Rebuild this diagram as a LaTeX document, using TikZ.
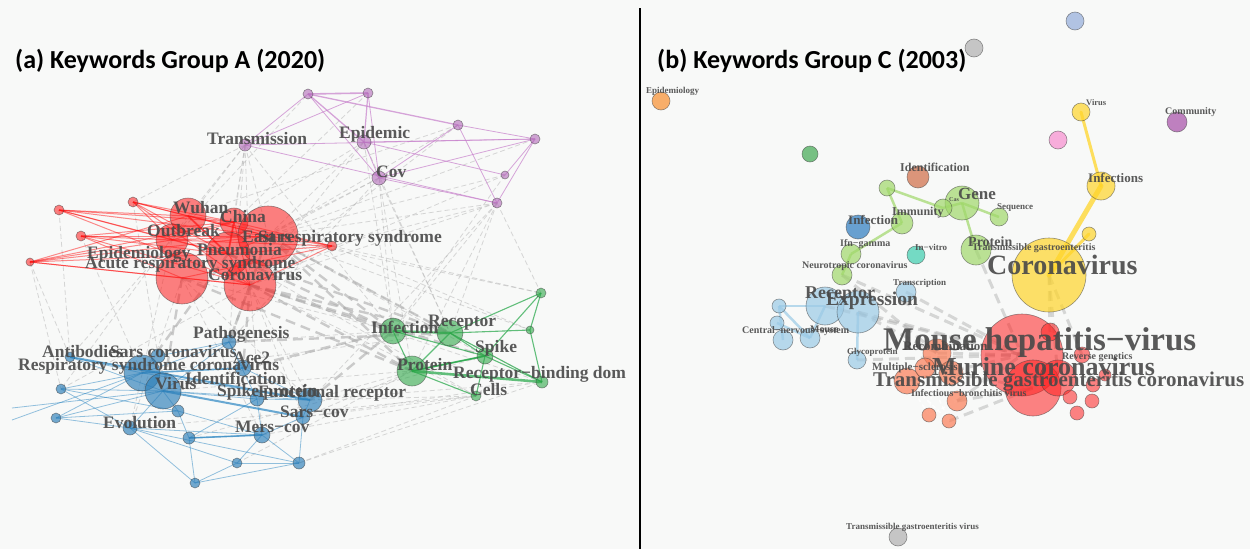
\documentclass[tikz,border=0pt]{standalone}
\usepackage{fontspec}
\setmainfont{Liberation Serif}
\newfontfamily\kwtitle{Carlito}
\pgfdeclarelayer{bgl}
\pgfdeclarelayer{edges}
\pgfsetlayers{bgl,edges,main}
\definecolor{bgc}{RGB}{248,249,248}
\definecolor{labgray}{RGB}{72,72,72}
\definecolor{apu}{HTML}{B36BBA}
\definecolor{ard}{HTML}{FF1A1A}
\definecolor{agn}{HTML}{30A84A}
\definecolor{abl}{HTML}{2A7DB8}
\definecolor{epu}{HTML}{C77FCB}
\definecolor{egn}{HTML}{21A545}
\definecolor{ebl}{HTML}{2B86C2}
\definecolor{corange}{HTML}{F88F2E}
\definecolor{cgreen}{HTML}{41A852}
\definecolor{cbrown}{HTML}{CF6B45}
\definecolor{clgreen}{HTML}{A0D86A}
\definecolor{cblue}{HTML}{2B7BC0}
\definecolor{cteal}{HTML}{3CCDAE}
\definecolor{cyellow}{HTML}{FFD52A}
\definecolor{cpink}{HTML}{F78ED0}
\definecolor{cpurple}{HTML}{A64EA8}
\definecolor{cbgray}{HTML}{93ADDB}
\definecolor{cgray}{HTML}{B0B0B0}
\definecolor{clblue}{HTML}{9BCAE6}
\definecolor{csalmon}{HTML}{FB7D57}
\definecolor{cred}{HTML}{FF2020}
\newcommand\kwfs[1]{\fontsize{#1}{#1}\selectfont\bfseries}
\newcommand\kwnode[5]{\node[#5, minimum size=#4*2pt] (#1) at (#2,#3) {};}
\newcommand\kwlab[5]{\node[lab, font=\kwfs{#4}] (#1) at (#2,#3) {#5};}
\tikzset{
  nd/.style={circle, inner sep=0pt, draw=black!75, draw opacity=0.55, line width=0.6pt},
  pu/.style={nd, fill=apu, fill opacity=0.6},
  rd/.style={nd, fill=ard, fill opacity=0.55},
  gn/.style={nd, fill=agn, fill opacity=0.6},
  bl/.style={nd, fill=abl, fill opacity=0.65},
  bnode/.style={nd, fill=#1, fill opacity=0.7},
  bred/.style={nd, fill=cred, fill opacity=0.55},
  lab/.style={anchor=west, inner sep=0pt, text=labgray, text opacity=0.9},
  titlelab/.style={anchor=west, inner sep=0pt, font=\kwtitle\fontsize{26}{26}\selectfont\bfseries},
  epur/.style={draw=epu, draw opacity=0.7, line width=0.8pt},
  ered/.style={draw=red, draw opacity=0.45, line width=1pt},
  egrn/.style={draw=egn, draw opacity=0.7, line width=1.1pt},
  eblu/.style={draw=ebl, draw opacity=0.5, line width=0.8pt},
  gthin/.style={draw=gray!60, draw opacity=0.5, line width=0.8pt, dash pattern=on 5pt off 3pt},
  gthick/.style={draw=gray!65, draw opacity=0.6, line width=2.4pt, dash pattern=on 10pt off 6pt},
  eyel/.style={draw=cyellow, draw opacity=0.75, line cap=round},
  elg/.style={draw=clgreen, draw opacity=0.7, line width=2.5pt},
  elb/.style={draw=clblue, draw opacity=0.7, line width=2.5pt},
}
\begin{document}
\begin{tikzpicture}[x=1pt, y=-1pt]
\useasboundingbox (0,0) rectangle (1250,549);
\begin{pgfonlayer}{bgl}
\fill[bgc] (0,0) rectangle (1250,549);
\end{pgfonlayer}
\draw[line width=2pt, black] (640,8) -- (640,549);
\node[titlelab] (titleA) at (15,61) {(a) Keywords Group A (2020)};
\node[titlelab] (titleB) at (657,61) {(b) Keywords Group C (2003)};

% ---------- Panel A nodes ----------
\kwnode{pA}{308}{94}{5}{pu}
\kwnode{pB}{368}{93}{5}{pu}
\kwnode{pTrans}{245}{145}{6}{pu}
\kwnode{pEpi}{364}{142}{7}{pu}
\kwnode{pCov}{379}{178}{7}{pu}
\kwnode{pC}{458}{125}{5}{pu}
\kwnode{pD}{535}{139}{5}{pu}
\kwnode{pE}{505}{175}{4}{pu}
\kwnode{pF}{497}{203}{5}{pu}

\kwnode{rA}{133}{202}{5}{rd}
\kwnode{rB}{59}{210}{5}{rd}
\kwnode{rC}{81}{236}{5}{rd}
\kwnode{rD}{30}{262}{4}{rd}
\kwnode{rE}{332}{246}{5}{rd}
\kwnode{rWuhan}{188}{216}{18}{rd}
\kwnode{rChina}{234}{222}{14}{rd}
\kwnode{rSars}{268}{236}{30}{rd}
\kwnode{rOut}{172}{240}{16}{rd}
\kwnode{rPneu}{228}{254}{22}{rd}
\kwnode{rEpi}{182}{278}{26}{rd}
\kwnode{rCoro}{250}{285}{26}{rd}

\kwnode{gA}{541}{293}{5}{gn}
\kwnode{gInf}{393}{331}{13}{gn}
\kwnode{gRec}{450}{333}{13}{gn}
\kwnode{gB}{530}{330}{4}{gn}
\kwnode{gSpike}{485}{356}{8}{gn}
\kwnode{gProt}{412}{371}{15}{gn}
\kwnode{gRBD}{542}{382}{6}{gn}
\kwnode{gCells}{476}{396}{5}{gn}

\kwnode{bPath}{229}{342}{7}{bl}
\kwnode{bAnti}{70}{357}{5}{bl}
\kwnode{bSars}{158}{356}{7}{bl}
\kwnode{bResp}{142}{373}{18}{bl}
\kwnode{bAce}{243}{368}{8}{bl}
\kwnode{bVirus}{163}{391}{18}{bl}
\kwnode{bSpike}{257}{399}{7}{bl}
\kwnode{bFunc}{310}{400}{12}{bl}
\kwnode{bSarsCov}{303}{417}{7}{bl}
\kwnode{bEvo}{130}{428}{7}{bl}
\kwnode{bMers}{262}{435}{8}{bl}
\kwnode{bA}{61}{389}{5}{bl}
\kwnode{bB}{56}{418}{5}{bl}
\kwnode{bC}{178}{411}{6}{bl}
\kwnode{bD}{189}{438}{6}{bl}
\kwnode{bE}{237}{463}{5}{bl}
\kwnode{bF}{299}{463}{6}{bl}
\kwnode{bG}{195}{483}{5}{bl}
\coordinate (bL1) at (12,408);
\coordinate (bL2) at (12,420);

% ---------- Panel B nodes ----------
\kwnode{cEpi}{661}{101}{9}{bnode=corange}
\kwnode{cG1}{810}{154}{8}{bnode=cgreen}
\kwnode{cIdent}{918}{177}{11}{bnode=cbrown}
\kwnode{cLG1}{887}{188}{8}{bnode=clgreen}
\kwnode{cGene}{962}{203}{17}{bnode=clgreen}
\kwnode{cCas}{943}{208}{9}{bnode=clgreen}
\kwnode{cSeq}{999}{217}{9}{bnode=clgreen}
\kwnode{cImm}{902}{223}{11}{bnode=clgreen}
\kwnode{cInf}{858}{227}{12}{bnode=cblue}
\kwnode{cIfn}{851}{254}{10}{bnode=clgreen}
\kwnode{cVitro}{916}{255}{9}{bnode=cteal}
\kwnode{cProt}{976}{250}{15}{bnode=clgreen}
\kwnode{cNeuro}{842}{275}{10}{bnode=clgreen}
\kwnode{cTrans}{906}{292}{10}{bnode=clblue}
\kwnode{cCoro}{1049}{275}{37}{bnode=cyellow}
\kwnode{cY1}{1089}{234}{7}{bnode=cyellow}
\kwnode{cInfs}{1101}{186}{14}{bnode=cyellow}
\kwnode{cVirus}{1081}{112}{9}{bnode=cyellow}
\kwnode{cPink}{1058}{140}{9}{bnode=cpink}
\kwnode{cComm}{1177}{122}{10}{bnode=cpurple}
\kwnode{cBG}{1075}{21}{9}{bnode=cbgray}
\kwnode{cGray}{974}{48}{9}{bnode=cgray}
\kwnode{cRec}{825}{306}{19}{bnode=clblue}
\kwnode{cExpr}{858}{312}{21}{bnode=clblue}
\kwnode{cLB1}{779}{306}{7}{bnode=clblue}
\kwnode{cLB2}{777}{323}{7}{bnode=clblue}
\kwnode{cLB3}{783}{340}{10}{bnode=clblue}
\kwnode{cLB4}{810}{338}{10}{bnode=clblue}
\kwnode{cGly}{857}{360}{9}{bnode=clblue}
\kwnode{cS1}{937}{353}{14}{bnode=csalmon}
\kwnode{cS2}{907}{381}{13}{bnode=csalmon}
\kwnode{cS3}{951}{373}{12}{bnode=csalmon}
\kwnode{cS7}{925}{368}{10}{bnode=csalmon}
\kwnode{cS4}{957}{401}{10}{bnode=csalmon}
\kwnode{cS5}{929}{415}{7}{bnode=csalmon}
\kwnode{cS6}{949}{421}{7}{bnode=csalmon}
\kwnode{cR1}{1022}{355}{41}{bred}
\kwnode{cR2}{1033}{388}{28}{bred}
\kwnode{cR3}{1058}{378}{18}{bred}
\kwnode{cR4}{1050}{332}{9}{bred}
\kwnode{cR10}{1082}{355}{8}{bred}
\kwnode{cR5}{1070}{397}{7}{bred}
\kwnode{cR6}{1092}{401}{7}{bred}
\kwnode{cR7}{1077}{413}{7}{bred}
\kwnode{cR8}{1093}{385}{7}{bred}
\kwnode{cR9}{1105}{375}{6}{bred}
\kwnode{cTGEV}{898}{537}{9}{bnode=cgray}

% ---------- edges ----------
\begin{pgfonlayer}{edges}
\foreach \a/\b in {pTrans/rWuhan, pTrans/rChina, pTrans/rSars, pTrans/rPneu, pTrans/rCoro, pTrans/gInf, pTrans/bPath, pTrans/rOut, pTrans/rA,
  pEpi/rSars, pEpi/rChina, pEpi/gInf, pEpi/gRec, pEpi/rCoro,
  pCov/rSars, pCov/gRec, pCov/gProt, pCov/bPath, pCov/rPneu, pCov/gInf,
  pF/rSars, pF/gInf, pF/rCoro, pF/gProt, pF/bFunc, pF/rE, pF/gA, pF/gRec,
  pE/rSars, pE/gInf, pE/rCoro, pC/rSars, pC/rCoro, pD/rSars, pB/rChina,
  rCoro/gCells, rCoro/gRBD, rSars/gRBD, rSars/gSpike, rPneu/gCells, rEpi/gInf, rEpi/bFunc,
  rD/bAnti, rD/bA, rC/bResp, rB/bAnti, rA/bSars, rOut/bAnti,
  rCoro/bFunc, rCoro/bMers, rCoro/bSarsCov, rEpi/bMers, rEpi/bEvo, rOut/bEvo, rWuhan/bA,
  bFunc/gProt, bFunc/gRBD, bFunc/gCells, bSarsCov/gCells, bSarsCov/gRBD, bMers/gCells, bF/gCells, bF/gRBD,
  bMers/gProt, bEvo/gCells, bVirus/gProt, bVirus/gInf, bPath/gInf, bResp/gRec, bA/rCoro, bE/gProt, bD/gSpike,
  rE/gA, rE/gB, rSars/gA, rChina/gB, rWuhan/pC, rOut/pA}
  \draw[gthin] (\a.center) -- (\b.center);
\foreach \a/\b in {rSars/gInf, rSars/gRec, rCoro/gInf, rCoro/gProt, rPneu/gInf, rSars/gProt, rCoro/gRec,
  rPneu/gRec, rEpi/gProt, bFunc/gInf, bPath/gRec, rSars/bPath, rCoro/bPath, rCoro/bAce, rEpi/bVirus, rPneu/bResp, rCoro/gSpike, bAce/gInf}
  \draw[gthick] (\a.center) -- (\b.center);
% purple
\foreach \a/\b in {pA/pTrans, pB/pTrans, pB/pCov, pTrans/pD, pTrans/pF, pEpi/pE, pEpi/pCov,
  pCov/pC, pCov/pD, pCov/pF, pC/pF, pC/pD, pD/pF, pD/pE, pA/pCov, pEpi/pD}
  \draw[epur] (\a.center) -- (\b.center);
\draw[epur, line width=1.6pt] (pA.center) -- (pB.center);
\draw[epur, line width=1.3pt] (pA.center) -- (pC.center);
\draw[epur, line width=1.3pt] (pA.center) -- (pEpi.center);
\draw[epur, line width=1.2pt] (pB.center) -- (pEpi.center);
% red
\foreach \a/\b in {rA/rWuhan, rA/rChina, rA/rSars, rA/rPneu, rA/rOut, rA/rCoro,
  rB/rWuhan, rB/rChina, rB/rSars, rB/rPneu, rB/rOut, rB/rCoro,
  rC/rOut, rC/rPneu, rC/rSars, rC/rCoro, rC/rEpi, rC/rChina,
  rD/rOut, rD/rPneu, rD/rEpi, rD/rCoro, rD/rSars, rD/rChina, rD/rWuhan,
  rE/rSars, rE/rPneu, rE/rOut, rE/rCoro, rE/rEpi, rE/rWuhan, rE/rChina,
  rWuhan/rChina, rWuhan/rPneu, rChina/rPneu, rOut/rPneu, rPneu/rSars, rPneu/rCoro,
  rEpi/rCoro, rOut/rSars, rWuhan/rSars, rChina/rCoro, rOut/rChina}
  \draw[ered] (\a.center) -- (\b.center);
\draw[ered, line width=2pt] (rWuhan.center) -- (rPneu.center);
\draw[ered, line width=2pt] (rChina.center) -- (rPneu.center);
% green
\foreach \a/\b in {gInf/gProt, gRec/gA, gRec/gB, gProt/gSpike, gSpike/gRBD, gSpike/gRec, gInf/gSpike,
  gCells/gProt, gCells/gSpike, gA/gB, gB/gRBD, gA/gSpike, gRec/gRBD, gRec/gProt}
  \draw[egrn] (\a.center) -- (\b.center);
\draw[egrn, line width=2.2pt] (gInf.center) -- (gRec.center);
\draw[egrn, line width=2.6pt] (gProt.center) -- (gRBD.center);
\draw[egrn, line width=1.8pt] (gProt.center) -- (gSpike.center);
% blue
\foreach \a/\b in {bAnti/bVirus, bAnti/bResp, bResp/bFunc, bVirus/bFunc, bVirus/bSpike, bVirus/bPath,
  bResp/bPath, bSars/bPath, bA/bResp, bA/bVirus, bA/bC, bB/bResp, bB/bC, bB/bVirus, bEvo/bVirus,
  bEvo/bE, bEvo/bF, bEvo/bG, bC/bD, bC/bVirus, bD/bMers, bD/bG, bE/bF, bE/bMers, bE/bG, bF/bMers,
  bF/bSarsCov, bG/bF, bMers/bSarsCov, bMers/bSpike, bSpike/bFunc, bSarsCov/bFunc, bPath/bSpike,
  bPath/bAce, bAce/bFunc, bL1/bVirus, bL2/bResp, bEvo/bMers, bC/bMers, bA/bEvo, bB/bEvo, bD/bSpike}
  \draw[eblu] (\a.center) -- (\b.center);
\draw[eblu, line width=2pt, draw opacity=0.7] (bAnti.center) -- (bFunc.center);
\draw[eblu, line width=2pt, draw opacity=0.7] (bVirus.center) -- (bSarsCov.center);
\draw[eblu, line width=1.6pt, draw opacity=0.7] (bResp.center) -- (bAce.center);
\draw[eblu, line width=1.6pt, draw opacity=0.7] (bD.center) -- (bMers.center);
% panel B
\foreach \a/\b in {cNeuro/cR1, cTrans/cR1, cExpr/cR1, cRec/cR1, cExpr/cS1, cProt/cR1, cGly/cR1,
  cS1/cR1, cS2/cR1, cS4/cR1, cS3/cR2, cS4/cR2, cS6/cR2, cNeuro/cS1, cCoro/cR3, cCoro/cR4, cCoro/cR10}
  \draw[gthick, draw opacity=0.45, line width=3pt] (\a.center) -- (\b.center);
\foreach \a/\b in {cS2/cS5, cS2/cS6, cS1/cS5, cS7/cS6, cS2/cS4, cS5/cS4}
  \draw[white, line width=1.5pt, dash pattern=on 4pt off 3pt, draw opacity=0.8] (\a.center) -- (\b.center);
\draw[eyel, line width=3pt] (cVirus.center) -- (cInfs.center);
\draw[eyel, line width=5pt] (cInfs.center) -- (cCoro.center);
\draw[eyel, line width=3pt] (cY1.center) -- (cCoro.center);
\foreach \a/\b in {cLG1/cCas, cLG1/cImm, cImm/cIfn, cCas/cGene, cGene/cSeq, cGene/cProt, cIfn/cNeuro}
  \draw[elg] (\a.center) -- (\b.center);
\foreach \a/\b in {cLB1/cLB4, cLB2/cLB4, cLB1/cLB3, cRec/cLB4, cExpr/cGly, cRec/cLB1}
  \draw[elb] (\a.center) -- (\b.center);
\end{pgfonlayer}

% ---------- Panel A labels ----------
\kwlab{lTrans}{207}{139}{17.5}{Transmission}
\kwlab{lEpi}{339}{134}{17.5}{Epidemic}
\kwlab{lCov}{376}{172}{17.5}{Cov}
\kwlab{lWuhan}{173}{208}{17.5}{Wuhan}
\kwlab{lChina}{220}{217}{17.5}{China}
\kwlab{lOut}{147}{231}{17.5}{Outbreak}
\kwlab{lEast}{242}{238}{17.5}{East respiratory syndrome}
\kwlab{lSars}{258}{237}{17.5}{Sars}
\kwlab{lPneu}{197}{250}{17.5}{Pneumonia}
\kwlab{lEpid}{87}{254}{17.5}{Epidemiology}
\kwlab{lAcute}{85}{264}{17.5}{Acute respiratory syndrome}
\kwlab{lCoro}{208}{275}{17.5}{Coronavirus}
\kwlab{lInf}{371}{327}{17.5}{Infection}
\kwlab{lRec}{428}{323}{17.5}{Receptor}
\kwlab{lSpike}{475}{348}{17.5}{Spike}
\kwlab{lProt}{397}{365}{17.5}{Protein}
\kwlab{lRBD}{453}{374}{17.5}{Receptor−binding dom}
\kwlab{lCells}{470}{390}{17.5}{Cells}
\kwlab{lPath}{193}{334}{17.5}{Pathogenesis}
\kwlab{lAnti}{42}{352}{17.5}{Antibodies}
\kwlab{lSarsC}{110}{352}{17.5}{Sars coronavirus}
\kwlab{lAce}{233}{358}{17.5}{Ace2}
\kwlab{lResp}{18}{366}{17.5}{Respiratory syndrome coronavirus}
\kwlab{lIdent}{185}{378}{17.5}{Identification}
\kwlab{lVirus}{155}{384}{17.5}{Virus}
\kwlab{lSpikeP}{217}{392}{17.5}{Spike protein}
\kwlab{lFunc}{258}{393}{17.5}{Functional receptor}
\kwlab{lSarsCov}{280}{412}{17.5}{Sars−cov}
\kwlab{lEvo}{103}{423}{17.5}{Evolution}
\kwlab{lMers}{235}{427}{17.5}{Mers−cov}

% ---------- Panel B labels ----------
\kwlab{mEpi}{646}{91}{9}{Epidemiology}
\kwlab{mIdent}{900}{167}{12}{Identification}
\kwlab{mGene}{958}{194}{17}{Gene}
\kwlab{mCas}{949}{200}{6}{Cas}
\kwlab{mSeq}{997}{207}{9}{Sequence}
\kwlab{mImm}{892}{213}{12}{Immunity}
\kwlab{mInf}{848}{220}{13}{Infection}
\kwlab{mIfn}{840}{244}{10}{Ifn−gamma}
\kwlab{mVitro}{915}{247}{9}{In−vitro}
\kwlab{mProt}{968}{242}{14}{Protein}
\kwlab{mTGE}{972}{248}{10}{Transmissible gastroenteritis}
\kwlab{mNeuro}{802}{266}{10}{Neurotropic coronavirus}
\kwlab{mTrans}{893}{283}{9}{Transcription}
\kwlab{mCoro}{987}{265}{28}{Coronavirus}
\kwlab{mInfs}{1088}{178}{13}{Infections}
\kwlab{mVirus}{1086}{103}{8.5}{Virus}
\kwlab{mComm}{1165}{112}{10}{Community}
\kwlab{mRec}{805}{295}{18}{Receptor}
\kwlab{mExpr}{826}{301}{19.5}{Expression}
\kwlab{mCNS}{742}{331}{10}{Central−nervous−system}
\kwlab{mMouse}{810}{329}{10}{Mouse}
\kwlab{mGly}{847}{352}{9}{Glycoprotein}
\kwlab{mRecomb}{903}{346}{13}{Recombination}
\kwlab{mMHV}{883}{343}{33}{Mouse hepatitis−virus}
\kwlab{mRevG}{1062}{357}{10}{Reverse genetics}
\kwlab{mMult}{872}{368}{11}{Multiple−sclerosis}
\kwlab{mMurine}{932}{367}{26}{Murine coronavirus}
\kwlab{mTGEC}{873}{382}{21}{Transmissible gastroenteritis coronavirus}
\kwlab{mIBV}{911}{393}{10}{Infectious−bronchitis virus}
\kwlab{mTGEV}{846}{527}{9}{Transmissible gastroenteritis virus}
\end{tikzpicture}
\end{document}
